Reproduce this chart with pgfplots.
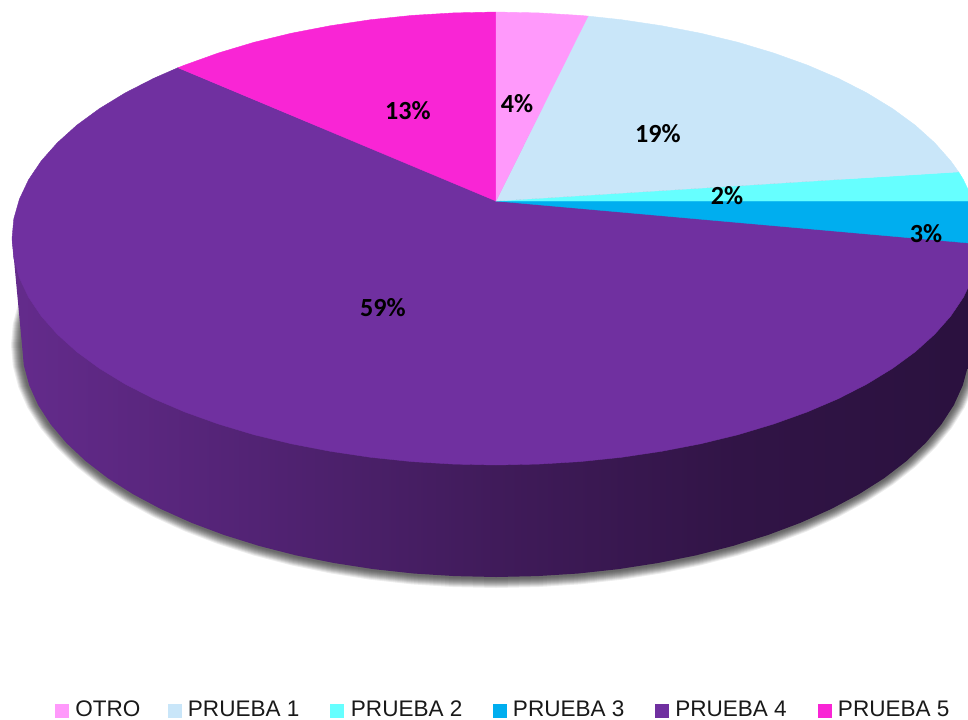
\documentclass[border=0pt]{standalone}
\usepackage{pgfplots}
\usepackage{pgfplotstable}
\usepackage{fontspec}
\pgfplotsset{compat=1.18}
\setmainfont{Liberation Sans}
\newfontfamily\lab{Carlito}
\definecolor{cotro}{HTML}{FF99FB}
\definecolor{cp1}{HTML}{C9E6F9}
\definecolor{cp2}{HTML}{66FFFF}
\definecolor{cp3}{HTML}{00AEEF}
\definecolor{cp4}{HTML}{7030A0}
\definecolor{cp5}{HTML}{F925D5}
\definecolor{sa}{HTML}{642B8C}
\definecolor{sb}{HTML}{522374}
\definecolor{sc}{HTML}{401B5A}
\definecolor{sd}{HTML}{311446}
\definecolor{se}{HTML}{2A113E}
\pgfdeclarehorizontalshading{pieside}{100bp}{
  color(0bp)=(sa);
  color(25bp)=(sa);
  color(37.5bp)=(sb);
  color(50bp)=(sc);
  color(62.5bp)=(sd);
  color(75bp)=(se);
  color(100bp)=(se)}
% lower outline of the pie's base, in picture pixels
\pgfplotstableread{
x y
970 345
968.2 365.2
962.8 385.3
953.9 405
941.4 424.3
925.6 443
906.5 461
884.3 478.1
859.1 494.1
831.2 509
800.7 522.7
767.9 535
733 545.9
696.3 555.3
658.1 563
618.7 569.1
578.3 573.5
537.3 576.1
496 577
454.7 576.1
413.7 573.5
373.3 569.1
333.9 563
295.7 555.3
259 545.9
224.1 535
191.3 522.7
160.8 509
132.9 494.1
107.7 478.1
85.5 461
66.4 443
50.6 424.3
38.1 405
29.2 385.3
23.8 365.2
22 345
23.8 324.8
29.2 304.7
38.1 285
50.6 265.7
66.4 247
85.5 229
107.7 211.9
132.9 195.9
160.8 181
191.3 167.3
224.1 155
259 144.1
295.7 134.7
333.9 127
373.3 120.9
413.7 116.5
454.7 113.9
496 113
537.3 113.9
578.3 116.5
618.7 120.9
658.1 127
696.3 134.7
733 144.1
767.9 155
800.7 167.3
831.2 181
859.1 195.9
884.3 211.9
906.5 229
925.6 247
941.4 265.7
953.9 285
962.8 304.7
968.2 324.8
}\ellipseB
\newcommand{\shadowlayer}[2]{%
  \addplot[fill=black, fill opacity=#2, draw=none]
    table[x expr={496+(\thisrow{x}-496)*(474+#1)/474},
          y expr={345+(\thisrow{y}-345)*(232+#1)/232}] {\ellipseB} -- cycle;
}
\newcommand{\legitem}[4]{%
  \addplot[only marks, mark=square*, mark size=4.9pt, mark options={fill=#1, draw=#1}] coordinates {(#2,710.5)};
  \node[anchor=base west, inner sep=0pt, font=\fontsize{16.9pt}{18pt}\selectfont, text=black!90] at (axis cs:#3,716.6) {#4};
}
\newcommand{\pct}[3]{%
  \node[anchor=center, inner sep=0pt, font=\lab\bfseries\fontsize{19.6pt}{20pt}\selectfont] at (axis cs:#1,#2) {#3};
}
\begin{document}
\begin{tikzpicture}
\useasboundingbox (0,0) rectangle (726pt,539.25pt);
\begin{axis}[
  scale only axis, width=726pt, height=539.25pt,
  xmin=0, xmax=968, ymin=0, ymax=719, y dir=reverse,
  axis lines=none, clip=true]
\shadowlayer{11}{0.07}
\shadowlayer{10}{0.08}
\shadowlayer{9}{0.09}
\shadowlayer{8}{0.09}
\shadowlayer{7}{0.09}
\shadowlayer{6}{0.09}
\shadowlayer{5}{0.09}
\shadowlayer{4}{0.09}
\shadowlayer{3}{0.08}
\shadowlayer{2}{0.07}
% side wall
\addplot[draw=none, shade, shading=pieside] coordinates {
(12,238.5)(22,345)(23.8,365.2)(29.2,385.3)(38.1,405)(50.6,424.3)(66.4,443)(85.5,461)(107.7,478.1)(132.9,494.1)(160.8,509)(191.3,522.7)(224.1,535)(259,545.9)(295.7,555.3)(333.9,563)(373.3,569.1)(413.7,573.5)(454.7,576.1)(496,577)(537.3,576.1)(578.3,573.5)(618.7,569.1)(658.1,563)(696.3,555.3)(733,545.9)(767.9,535)(800.7,522.7)(831.2,509)(859.1,494.1)(884.3,478.1)(906.5,461)(925.6,443)(941.4,424.3)(953.9,405)(962.8,385.3)(968.2,365.2)(970,345)(980,238.5)
} -- cycle;
% PRUEBA 4
\addplot[fill=cp4, draw=cp4, line width=0.3pt] coordinates {
(496,201)(979.9,244)(978.2,258.2)(972.6,277.8)(963.5,297.1)(950.8,316)(934.7,334.2)(915.2,351.8)(892.5,368.4)(866.8,384.1)(838.2,398.7)(807.1,412)(773.6,424)(738,434.7)(700.5,443.8)(661.5,451.3)(621.3,457.3)(580,461.6)(538.2,464.1)(496,465)(453.8,464.1)(412,461.6)(370.7,457.3)(330.5,451.3)(291.5,443.8)(254,434.7)(218.4,424)(184.9,412)(153.8,398.7)(125.2,384.1)(99.5,368.4)(76.8,351.8)(57.3,334.2)(41.2,316)(28.5,297.1)(19.4,277.8)(13.8,258.2)(12,238.5)(13.8,218.8)(19.4,199.2)(28.5,179.9)(41.2,161)(57.3,142.8)(76.8,125.2)(99.5,108.6)(125.2,92.9)(153.8,78.3)(178,67.7)
} -- cycle;
% PRUEBA 5
\addplot[fill=cp5, draw=cp5, line width=0.3pt] coordinates {
(496,201)(178,67.7)(184.9,65)(218.4,53)(254,42.3)(291.5,33.2)(330.5,25.7)(370.7,19.7)(412,15.4)(453.8,12.9)(496,12)
} -- cycle;
% PRUEBA 3
\addplot[fill=cp3, draw=cp3, line width=0.3pt] coordinates {
(496,201)(973.3,201)(978.2,218.8)(980,238.5)(979.9,244)
} -- cycle;
% PRUEBA 2
\addplot[fill=cp2, draw=cp2, line width=0.3pt] coordinates {
(496,201)(958.6,171.9)(963.5,179.9)(972.6,199.2)(973.3,201)
} -- cycle;
% PRUEBA 1
\addplot[fill=cp1, draw=cp1, line width=0.3pt] coordinates {
(496,201)(588,16.1)(621.3,19.7)(661.5,25.7)(700.5,33.2)(738,42.3)(773.6,53)(807.1,65)(838.2,78.3)(866.8,92.9)(892.5,108.6)(915.2,125.2)(934.7,142.8)(950.8,161)(958.6,171.9)
} -- cycle;
% OTRO
\addplot[fill=cotro, draw=cotro, line width=0.3pt] coordinates {
(496,201)(496,12)(538.2,12.9)(580,15.4)(588,16.1)
} -- cycle;
\pct{517}{104}{4\%}
\pct{658}{134}{19\%}
\pct{727}{196}{2\%}
\pct{926}{234}{3\%}
\pct{408}{111}{13\%}
\pct{383}{308}{59\%}
\legitem{cotro}{61.5}{75}{OTRO}
\legitem{cp1}{174.3}{187.7}{PRUEBA 1}
\legitem{cp2}{337}{350.7}{PRUEBA 2}
\legitem{cp3}{499.5}{512.7}{PRUEBA 3}
\legitem{cp4}{662}{675}{PRUEBA 4}
\legitem{cp5}{825}{837.7}{PRUEBA 5}
\end{axis}
\end{tikzpicture}
\end{document}
